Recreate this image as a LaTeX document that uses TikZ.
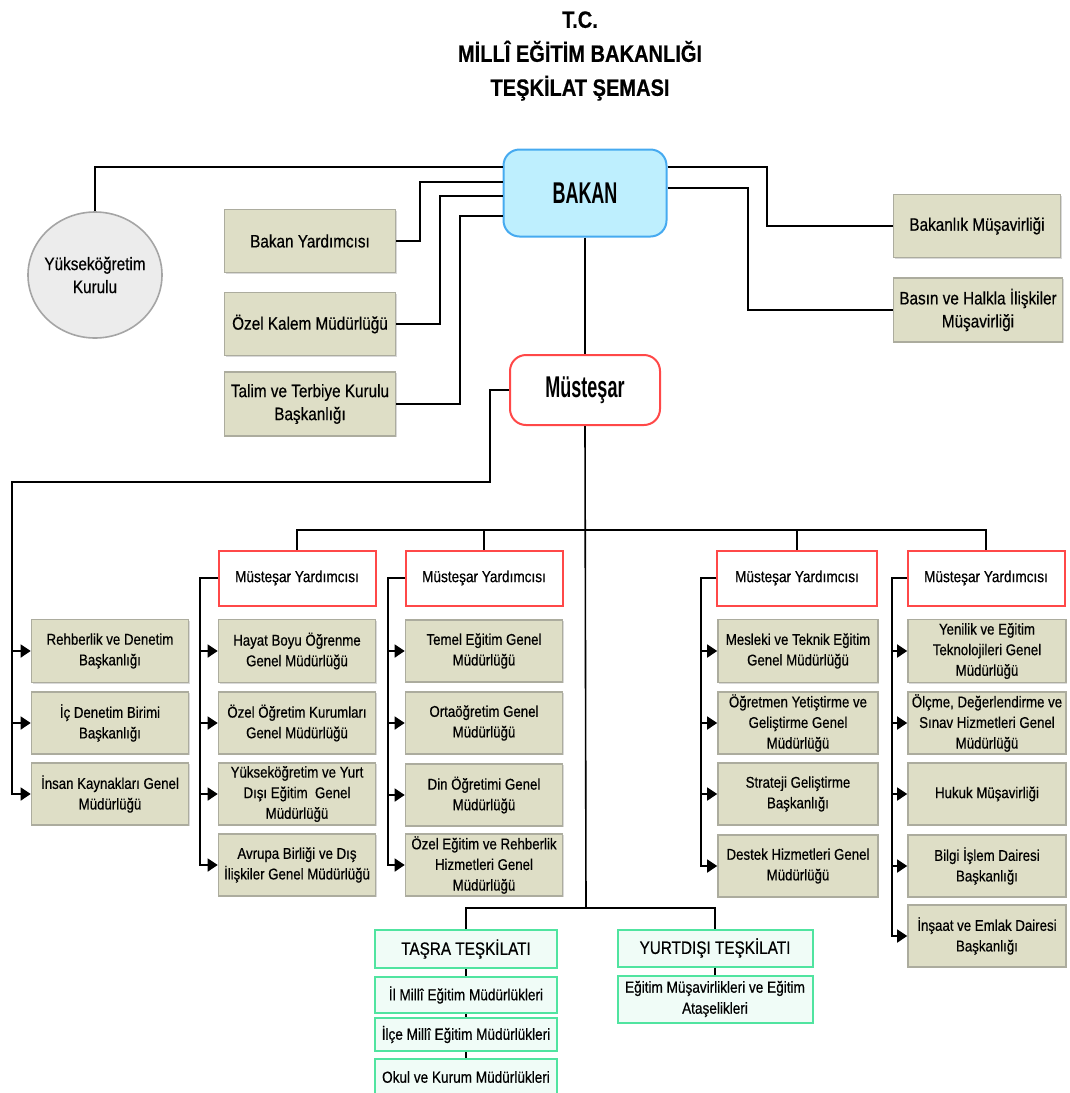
\documentclass[tikz,border=0pt]{standalone}
\usepackage{fontspec}
\setmainfont{Liberation Sans}[FakeStretch=0.85, FakeBold=0.5]
\newfontfamily\bigfont{Liberation Sans}[FakeStretch=0.6]
\usetikzlibrary{arrows.meta,shapes.geometric,shadows}

\definecolor{bakanfill}{RGB}{190,239,254}
\definecolor{bakanline}{RGB}{70,170,240}
\definecolor{yokfill}{RGB}{236,236,236}
\definecolor{yokline}{RGB}{165,165,165}
\definecolor{birimfill}{RGB}{222,222,198}
\definecolor{birimline}{RGB}{172,172,158}
\definecolor{kirmizi}{RGB}{255,72,72}
\definecolor{yesilfill}{RGB}{240,252,247}
\definecolor{yesilline}{RGB}{80,228,160}

\begin{document}
\begin{tikzpicture}[x=0.5pt, y=-0.5pt, line width=0.8pt,
    birim/.style={draw=birimline, fill=birimfill, align=center, inner sep=1pt,
        minimum width=78.5pt, minimum height=31pt, font=\fontsize{7.8}{10.3}\selectfont,
        drop shadow={shadow xshift=0.7pt, shadow yshift=-0.7pt, opacity=0.3}},
    ustbirim/.style={birim, minimum width=85.5pt, minimum height=31.5pt, font=\fontsize{9}{11.5}\selectfont},
    yardimci/.style={draw=kirmizi, fill=white, line width=1pt, minimum width=78.5pt,
        minimum height=27.5pt, font=\fontsize{8}{10}\selectfont},
    tasrakutu/.style={draw=yesilline, fill=yesilfill, line width=1pt, align=center,
        inner sep=1pt, minimum width=91pt, font=\fontsize{8}{10.5}\selectfont},
    ok/.style={-{Triangle[length=5pt,width=6.5pt]}}]
    \useasboundingbox (0,0) rectangle (1070,1093);

    % baslik
    \node[align=center, font=\bfseries\fontsize{11.8}{17}\selectfont] (baslik) at (580,56)
        {T.C.\\MİLLÎ EĞİTİM BAKANLIĞI\\TEŞKİLAT ŞEMASI};

    % bakan ve bagli birimler
    \node[draw=bakanline, fill=bakanfill, line width=1pt, rounded corners=8pt,
        minimum width=81.5pt, minimum height=43.5pt,
        font=\bigfont\bfseries\fontsize{15}{18}\selectfont] (bakan) at (585,193) {BAKAN};
    \node[ellipse, draw=yokline, fill=yokfill, minimum width=67pt, minimum height=63pt,
        inner sep=0pt, label={[align=center, font=\fontsize{9}{11.5}\selectfont]center:Yükseköğretim\\Kurulu}]
        (yok) at (95,275) {};
    \node[ustbirim] (byard) at (310,241) {Bakan Yardımcısı};
    \node[ustbirim] (ozkalem) at (310,324) {Özel Kalem Müdürlüğü};
    \node[ustbirim, minimum height=32pt] (talim) at (310,404) {Talim ve Terbiye Kurulu\\Başkanlığı};
    \node[ustbirim, minimum width=83.5pt] (bmusavir) at (977,226) {Bakanlık Müşavirliği};
    \node[ustbirim, minimum width=84.5pt, minimum height=32pt] (basin) at (978,310)
        {Basın ve Halkla İlişkiler\\Müşavirliği};

    \coordinate (k0) at (95,167);
    \coordinate (k1) at (420,182);
    \coordinate (k2) at (440,196);
    \coordinate (k3) at (460,216);
    \coordinate (r1) at (767,167);
    \coordinate (r2) at (748,188);
    \draw (bakan.west |- k0) -| (yok.north);
    \draw (bakan.west |- k1) -- (k1) |- (byard.east);
    \draw (bakan.west |- k2) -- (k2) |- (ozkalem.east);
    \draw (bakan.west |- k3) -- (k3) |- (talim.east);
    \draw (bakan.east |- r1) -- (r1) |- (bmusavir.west);
    \draw (bakan.east |- r2) -- (r2) |- (basin.west);

    % mustesar
    \node[draw=kirmizi, fill=white, line width=1pt, rounded corners=8pt,
        minimum width=75pt, minimum height=35pt,
        font=\bigfont\bfseries\fontsize{15}{18}\selectfont] (mustesar) at (585,390) {Müsteşar};
    \draw (bakan.south) -- (mustesar.north);

    % mustesar yardimcilari
    \node[yardimci] (my1) at (297,578) {Müsteşar Yardımcısı};
    \node[yardimci] (my2) at (484,578) {Müsteşar Yardımcısı};
    \node[yardimci, minimum width=80pt] (my3) at (797,578) {Müsteşar Yardımcısı};
    \node[yardimci] (my4) at (986,578) {Müsteşar Yardımcısı};
    \coordinate (yatay) at (586,530);
    \draw (mustesar.south) -- (586,908) coordinate (catal);
    \draw (my1.north) |- (yatay) -| (my4.north);
    \draw (my2.north) -- (my2.north |- yatay);
    \draw (my3.north) -- (my3.north |- yatay);

    % mustesara bagli birimler
    \node[birim, minimum height=31.5pt] (rehber) at (110,651) {Rehberlik ve Denetim\\Başkanlığı};
    \node[birim] (icdenetim) at (110,723) {İç Denetim Birimi\\Başkanlığı};
    \node[birim] (insan) at (110,794) {İnsan Kaynakları Genel\\Müdürlüğü};
    \coordinate (m1) at (490,482);
    \coordinate (bar0) at (12,482);
    \draw[ok] (mustesar.west) -| (m1) -- (bar0) |- (insan.west);
    \draw[ok] (bar0 |- rehber.west) -- (rehber.west);
    \draw[ok] (bar0 |- icdenetim.west) -- (icdenetim.west);

    % 1. yardimci
    \node[birim, minimum height=31.5pt] (hayat) at (297,651) {Hayat Boyu Öğrenme\\Genel Müdürlüğü};
    \node[birim] (ozelogr) at (297,723) {Özel Öğretim Kurumları\\Genel Müdürlüğü};
    \node[birim] (yuksek) at (297,794) {Yükseköğretim ve Yurt\\Dışı Eğitim\ \ Genel\\Müdürlüğü};
    \node[birim] (avrupa) at (297,865) {Avrupa Birliği ve Dış\\İlişkiler Genel Müdürlüğü};
    \coordinate (bar1) at (200,578);
    \draw[ok] (my1.west) -- (bar1) |- (avrupa.west);
    \draw[ok] (bar1 |- hayat.west) -- (hayat.west);
    \draw[ok] (bar1 |- ozelogr.west) -- (ozelogr.west);
    \draw[ok] (bar1 |- yuksek.west) -- (yuksek.west);

    % 2. yardimci
    \node[birim] (temel) at (484,651) {Temel Eğitim Genel\\Müdürlüğü};
    \node[birim] (orta) at (484,723) {Ortaöğretim Genel\\Müdürlüğü};
    \node[birim] (din) at (484,795) {Din Öğretimi Genel\\Müdürlüğü};
    \node[birim] (ozelegt) at (484,865) {Özel Eğitim ve Rehberlik\\Hizmetleri Genel\\Müdürlüğü};
    \coordinate (bar2) at (388,578);
    \draw[ok] (my2.west) -- (bar2) |- (ozelegt.west);
    \draw[ok] (bar2 |- temel.west) -- (temel.west);
    \draw[ok] (bar2 |- orta.west) -- (orta.west);
    \draw[ok] (bar2 |- din.west) -- (din.west);

    % 3. yardimci
    \node[birim, minimum width=80pt, minimum height=31.5pt] (mesleki) at (798,651) {Mesleki ve Teknik Eğitim\\Genel Müdürlüğü};
    \node[birim, minimum width=80pt] (ogretmen) at (798,723) {Öğretmen Yetiştirme ve\\Geliştirme Genel\\Müdürlüğü};
    \node[birim, minimum width=80pt] (strateji) at (798,794) {Strateji Geliştirme\\Başkanlığı};
    \node[birim, minimum width=80pt] (destek) at (798,866) {Destek Hizmetleri Genel\\Müdürlüğü};
    \coordinate (bar3) at (701,578);
    \draw[ok] (my3.west) -- (bar3) |- (destek.west);
    \draw[ok] (bar3 |- mesleki.west) -- (mesleki.west);
    \draw[ok] (bar3 |- ogretmen.west) -- (ogretmen.west);
    \draw[ok] (bar3 |- strateji.west) -- (strateji.west);

    % 4. yardimci
    \node[birim, minimum width=79pt, minimum height=31.5pt] (yenilik) at (987,651) {Yenilik ve Eğitim\\Teknolojileri Genel\\Müdürlüğü};
    \node[birim, minimum width=79pt] (olcme) at (987,723) {Ölçme, Değerlendirme ve\\Sınav Hizmetleri Genel\\Müdürlüğü};
    \node[birim, minimum width=79pt] (hukuk) at (987,794) {Hukuk Müşavirliği};
    \node[birim, minimum width=79pt] (bilgi) at (987,866) {Bilgi İşlem Dairesi\\Başkanlığı};
    \node[birim, minimum width=79pt] (insaat) at (987,936) {İnşaat ve Emlak Dairesi\\Başkanlığı};
    \coordinate (bar4) at (892,578);
    \draw[ok] (my4.west) -- (bar4) |- (insaat.west);
    \draw[ok] (bar4 |- yenilik.west) -- (yenilik.west);
    \draw[ok] (bar4 |- olcme.west) -- (olcme.west);
    \draw[ok] (bar4 |- hukuk.west) -- (hukuk.west);
    \draw[ok] (bar4 |- bilgi.west) -- (bilgi.west);

    % tasra ve yurtdisi
    \node[tasrakutu, minimum height=19pt, font=\fontsize{9}{11}\selectfont] (tasra) at (466,949) {TAŞRA TEŞKİLATI};
    \node[tasrakutu, minimum height=18pt] (il) at (466,995) {İl Millî Eğitim Müdürlükleri};
    \node[tasrakutu, minimum height=16.5pt] (ilce) at (466,1034.5) {İlçe Millî Eğitim Müdürlükleri};
    \node[tasrakutu, minimum height=18pt] (okul) at (466,1077) {Okul ve Kurum Müdürlükleri};
    \node[tasrakutu, minimum width=97.5pt, minimum height=18.5pt, font=\fontsize{9}{11}\selectfont] (yurt) at (715,948) {YURTDIŞI TEŞKİLATI};
    \node[tasrakutu, minimum width=97.5pt, minimum height=23.5pt] (musav) at (715,999) {Eğitim Müşavirlikleri ve Eğitim\\Ataşelikleri};
    \draw (tasra.north) |- (catal) -| (yurt.north);
    \draw (tasra) -- (il) -- (ilce) -- (okul);
    \draw (yurt) -- (musav);
\end{tikzpicture}
\end{document}
